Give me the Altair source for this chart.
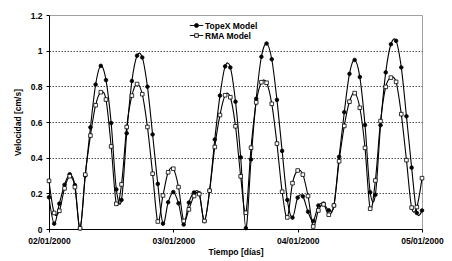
import altair as alt
import pandas as pd

# ---- data ----
hours = list(range(73))          # hourly samples, 02/01/2000 00:00 -> 05/01/2000 00:00
start = "2000-01-02"
series_names = ["TopeX Model", "RMA Model"]
day_ticks = [2, 3, 4, 5]
y_ticks = [0, 0.2, 0.4, 0.6, 0.8, 1.0, 1.2]

tope = [0.178, 0.03, 0.142, 0.248, 0.307, 0.246, 0.004, 0.30, 0.57, 0.81,
        0.915, 0.835, 0.594, 0.222, 0.163, 0.537, 0.83, 0.972, 0.962, 0.798,
        0.53, 0.253, 0.03, 0.15, 0.207, 0.144, 0.025, 0.148, 0.205, 0.2,
        0.045, 0.215, 0.502, 0.748, 0.912, 0.906, 0.714, 0.402, 0.005, 0.39,
        0.73, 0.966, 1.04, 0.952, 0.724, 0.438, 0.163, 0.064, 0.176, 0.183,
        0.097, 0.045, 0.132, 0.142, 0.105, 0.132, 0.405, 0.655, 0.87, 0.948,
        0.852, 0.583, 0.206, 0.192, 0.582, 0.878, 1.036, 1.055, 0.906, 0.632,
        0.344, 0.09, 0.104]

rma = [0.27, 0.09, 0.102, 0.228, 0.296, 0.235, 0.004, 0.305, 0.524, 0.694,
       0.767, 0.726, 0.463, 0.141, 0.25, 0.572, 0.748, 0.813, 0.756, 0.572,
       0.31, 0.042, 0.188, 0.318, 0.338, 0.235, 0.045, 0.11, 0.185, 0.196,
       0.045, 0.215, 0.46, 0.639, 0.75, 0.739, 0.576, 0.295, 0.091, 0.456,
       0.71, 0.823, 0.82, 0.702, 0.479, 0.209, 0.065, 0.257, 0.328, 0.305,
       0.185, 0.014, 0.104, 0.138, 0.08, 0.132, 0.38, 0.578, 0.714, 0.762,
       0.68, 0.455, 0.114, 0.272, 0.605, 0.797, 0.849, 0.825, 0.644, 0.386,
       0.12, 0.123, 0.285]

t0 = pd.Timestamp(start)
rows = []
for name, vals in zip(series_names, [tope, rma]):
    for h, v in zip(hours, vals):
        rows.append({"t": (t0 + pd.Timedelta(hours=h)).isoformat(), "v": v, "s": name})
df = pd.DataFrame(rows)

FONT = "Liberation Sans"

x_enc = alt.X(
    "t:T",
    scale=alt.Scale(domain=[alt.DateTime(year=2000, month=1, date=day_ticks[0]),
                            alt.DateTime(year=2000, month=1, date=day_ticks[-1])]),
    axis=alt.Axis(
        title="Tiempo [días]",
        values=[alt.DateTime(year=2000, month=1, date=d) for d in day_ticks],
        format="%d/%m/%Y", grid=False, tickSize=3, labelPadding=4,
        titlePadding=3, labelFlush=False, labelOverlap=False,
    ),
)
y_enc = alt.Y(
    "v:Q",
    scale=alt.Scale(domain=[0, 1.2]),
    axis=alt.Axis(
        title="Velocidad [cm/s]", values=y_ticks, format="~g", grid=True,
        gridDash=[1.5, 1.5], gridColor="#222", gridWidth=0.8,
        gridOpacity={"condition": {"test": "datum.value > 1.1 || datum.value < 0.1", "value": 0}, "value": 1},
        tickSize=3, labelPadding=4, titlePadding=8, labelOverlap=False,
    ),
)

lines = alt.Chart(df).mark_line(interpolate="cardinal", strokeWidth=1.1, color="black").encode(
    x=x_enc, y=y_enc, detail="s:N"
)

points = alt.Chart(df).mark_point(size=13, stroke="black", strokeWidth=0.8, opacity=1).encode(
    x=x_enc, y=y_enc,
    shape=alt.Shape("s:N", scale=alt.Scale(domain=series_names, range=["circle", "square"]), legend=None),
    fill=alt.Fill("s:N", scale=alt.Scale(domain=series_names, range=["black", "white"]), legend=None),
)

circle_path = "M-1.5,0H-0.45M0.45,0H1.5M0.45,0A0.45,0.45,0,1,1,-0.45,0A0.45,0.45,0,1,1,0.45,0Z"
square_path = "M-1.5,0H-0.4M0.4,0H1.5M-0.4,-0.4H0.4V0.4H-0.4Z"

leg = alt.Legend(
    title=None, orient="none", legendX=142.5, legendY=5.5,
    labelFont=FONT, labelFontSize=8.5, labelFontWeight="bold", labelColor="black",
    symbolOpacity=1, symbolStrokeWidth=0.9, symbolSize=81,
    labelOffset=3.5, rowPadding=0, padding=0, offset=0,
)

legend_layer = alt.Chart(df).mark_point(size=81, strokeWidth=0.9, opacity=0).encode(
    x=x_enc, y=y_enc,
    shape=alt.Shape("s:N", scale=alt.Scale(domain=series_names, range=[circle_path, square_path]), legend=leg),
    fill=alt.Fill("s:N", scale=alt.Scale(domain=series_names, range=["black", "white"]), legend=leg),
    stroke=alt.Stroke("s:N", scale=alt.Scale(domain=series_names, range=["black", "black"]), legend=leg),
)

chart = (
    alt.layer(lines, points, legend_layer)
    .resolve_scale(shape="independent", fill="independent", stroke="independent")
    .properties(
        width=373, height=214,
        autosize=alt.AutoSizeParams(type="none"),
        padding={"left": 49, "top": 15, "right": 30, "bottom": 32},
        background="white",
    )
    .configure_axis(
        labelFont=FONT, titleFont=FONT, labelFontSize=8.5, titleFontSize=8.5,
        labelFontWeight="bold", titleFontWeight="bold", labelColor="black",
        titleColor="black", domainColor="black", tickColor="black", domainWidth=1,
    )
    .configure_view(stroke="#a0a0a0", strokeWidth=1)
)

chart.save("out.html", embed_options={"renderer": "svg", "actions": False})
